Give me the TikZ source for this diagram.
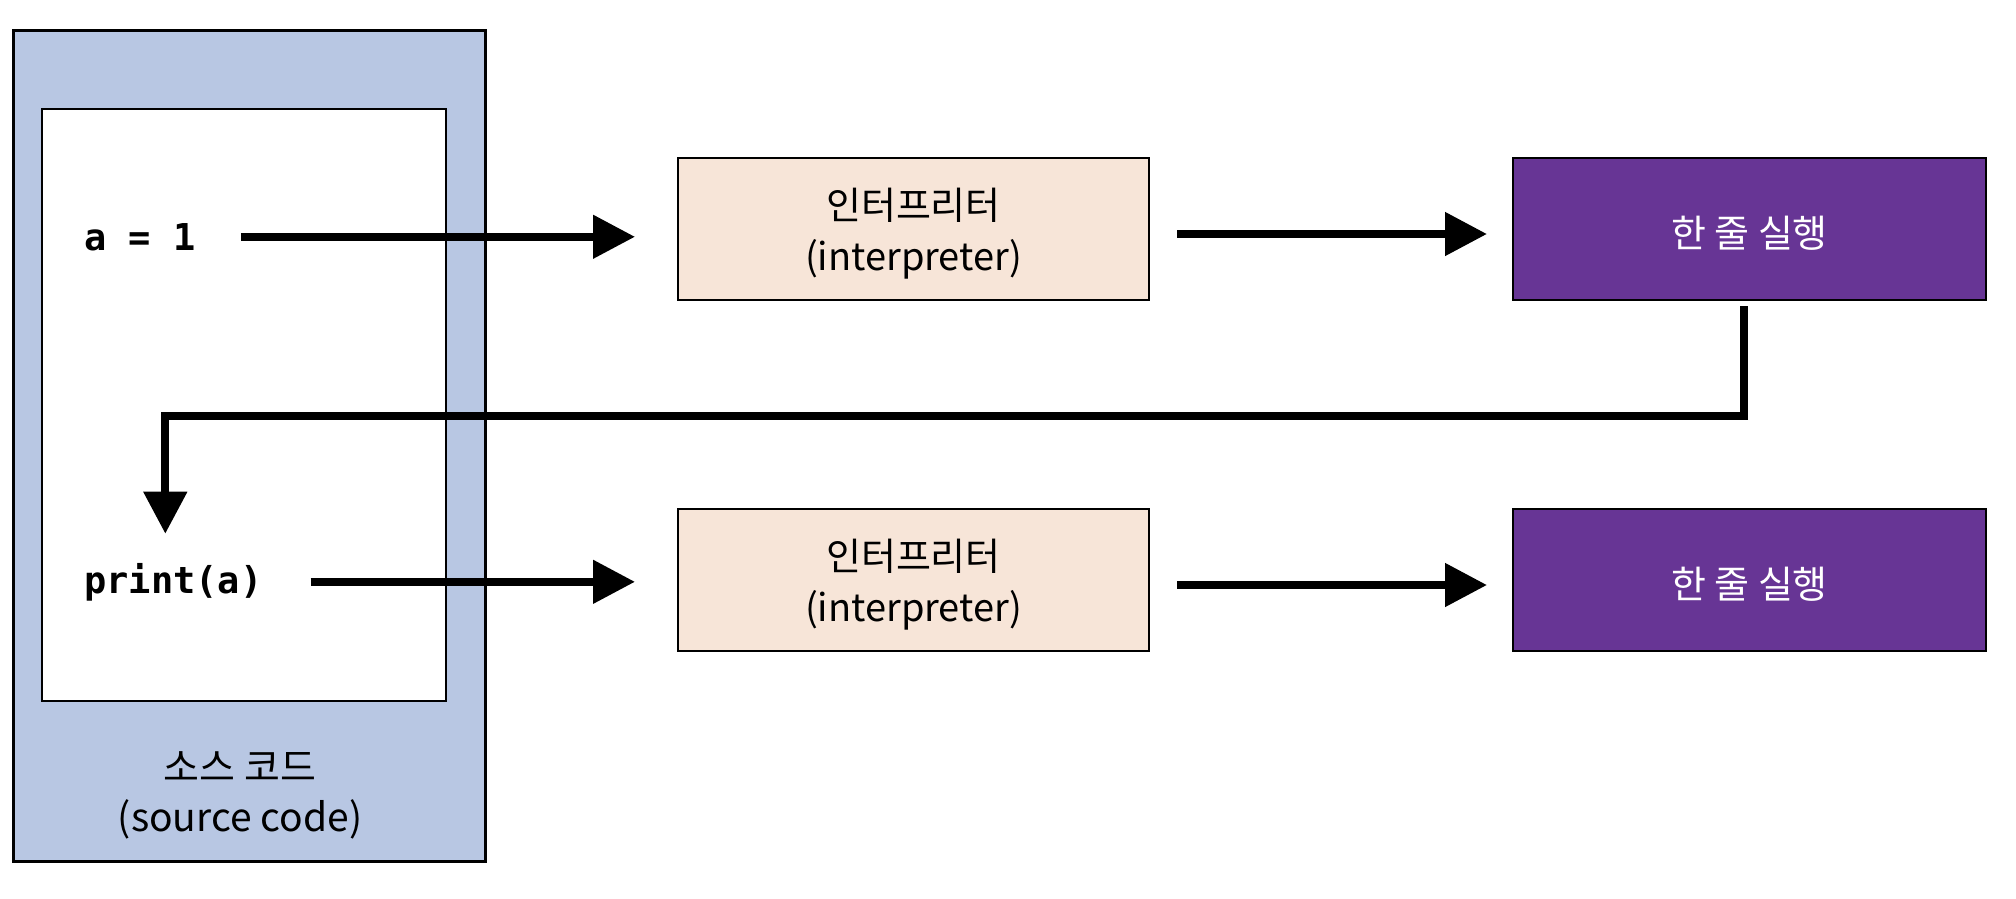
\documentclass[tikz,border=0pt]{standalone}
\usepackage{fontspec}
\setmainfont{Noto Sans CJK KR}
\setmonofont{DejaVu Sans Mono}
\usetikzlibrary{arrows.meta}
\definecolor{srcblue}{HTML}{B8C7E3}
\definecolor{interpbg}{HTML}{F7E5D8}
\definecolor{runpurple}{HTML}{673595}

\begin{document}
\begin{tikzpicture}[x=1pt, y=-1pt,
  srcbox/.style={draw, line width=3pt, fill=srcblue, minimum width=472pt,
    minimum height=831pt, inner sep=0pt},
  codearea/.style={draw, line width=2.5pt, fill=white, minimum width=404pt,
    minimum height=592pt, inner sep=0pt},
  codetext/.style={anchor=base west, inner sep=0pt, font=\fontsize{37}{44}\selectfont\ttfamily\bfseries},
  interpbox/.style={draw, line width=2pt, fill=interpbg, minimum width=471pt,
    minimum height=142pt},
  runbox/.style={draw, line width=2pt, fill=runpurple, minimum width=473pt,
    minimum height=142pt},
  boxtext/.style={align=center, font=\fontsize{38}{51}\selectfont},
  srclabel/.style={align=center, font=\fontsize{39}{50}\selectfont},
  flowarrow/.style={-{Triangle[width=42pt,length=42pt]}, line width=8pt}
]
  \useasboundingbox (0,0) rectangle (2016,898);

  \node[srcbox] (src) at (249,446) {};
  \node[codearea] (area) at (244,405) {};
  \node[srclabel] (srcname) at (240,795) {소스 코드\\(source code)};

  \node[codetext] (lineA) at (84,250) {a = 1};
  \node[codetext] (lineB) at (84,593) {print(a)};

  \node[interpbox] (interpA) at (913.5,229) {};
  \node[interpbox] (interpB) at (913.5,580) {};
  \node[runbox] (runA) at (1749.5,229) {};
  \node[runbox] (runB) at (1749.5,580) {};

  \node[boxtext] (interpAtxt) at (913.5,234) {인터프리터\\(interpreter)};
  \node[boxtext] (interpBtxt) at (913.5,585) {인터프리터\\(interpreter)};
  \node[boxtext, text=white] (runAtxt) at (1749.5,233) {한 줄 실행};
  \node[boxtext, text=white] (runBtxt) at (1749.5,584) {한 줄 실행};

  \coordinate (loopturn) at (0,416);

  \draw[flowarrow, shorten <=45pt, shorten >=42pt] (lineA.east) -- (lineA.east -| interpA.west);
  \draw[flowarrow, shorten <=27pt, shorten >=25pt] ([yshift=-5pt]interpA.east) -- ([yshift=-5pt]runA.west);
  \draw[flowarrow, shorten <=5pt, shorten >=29pt] ([xshift=-6pt]runA.south)
    -- ([xshift=-6pt]runA.south |- loopturn) -| ([xshift=-8pt]lineB.north);
  \draw[flowarrow, shorten <=48pt, shorten >=42pt] (lineB.east) -- (lineB.east -| interpB.west);
  \draw[flowarrow, shorten <=27pt, shorten >=25pt] ([yshift=-5pt]interpB.east) -- ([yshift=-5pt]runB.west);
\end{tikzpicture}
\end{document}
